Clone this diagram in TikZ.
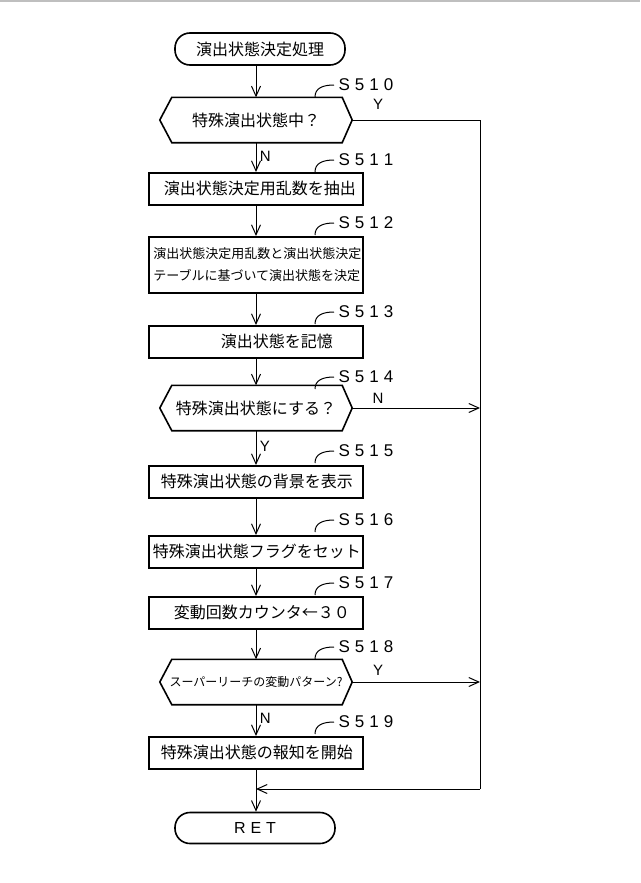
\documentclass[tikz,border=0pt]{standalone}
\usepackage{fontspec}
\setmainfont{Noto Sans CJK JP}
\newfontfamily\lat{Liberation Sans}
\usetikzlibrary{arrows.meta}
\begin{document}
\begin{tikzpicture}[x=1pt,y=-1pt,
  box/.style={draw,line width=1.6pt,minimum width=214pt,minimum height=32pt,inner sep=0pt,font=\fontsize{16}{18}\selectfont,anchor=north west,align=left},
  term/.style={draw,line width=1.6pt,rounded corners=15pt,inner sep=0pt,font=\fontsize{16}{18}\selectfont},
  dec/.style={minimum width=192pt,minimum height=45pt,inner sep=0pt,font=\fontsize{16}{18}\selectfont},
  arr/.style={-{Straight Barb[length=10pt,width=9pt]},line width=1pt},
  ln/.style={line width=1pt},
  lab/.style={font=\lat\fontsize{17}{19}\selectfont,anchor=west},
  yn/.style={font=\lat\fontsize{15}{17}\selectfont}]
\useasboundingbox (0,0) rectangle (640,883);
\draw[gray!50,line width=2pt] (0,1) -- (640,1);
\newcommand\hexa[1]{\draw[line width=1.6pt] (#1.west) -- ([xshift=12pt]#1.north west) -- ([xshift=-10pt]#1.north east) -- (#1.east) -- ([xshift=-10pt]#1.south east) -- ([xshift=12pt]#1.south west) -- cycle;}
\newcommand\slab[3]{\node[lab] (#2) at (335,#3) {S\hspace{5pt}5\hspace{5pt}1\hspace{5pt}#1};\draw[ln] ([xshift=-1pt]#2.west) .. controls ([xshift=-12pt]#2.west) and (315,#3+3) .. (315,#3+12);}
\node[term,minimum width=170pt,minimum height=32pt] (st) at (260,49) {演出状態決定処理};
\node[dec] (d0) at (256,120) {特殊演出状態中？}; \hexa{d0}
\node[box] (b1) at (148,172) {\hspace*{8pt}演出状態決定用乱数を抽出};
\node[box,minimum height=56pt,font=\fontsize{13}{22}\selectfont] (b2) at (148,236) {\hspace*{3pt}演出状態決定用乱数と演出状態決定\\\hspace*{3pt}テーブルに基づいて演出状態を決定};
\node[box] (b3) at (148,325) {\hspace*{42pt}演出状態を記憶};
\node[dec] (d4) at (256,408) {特殊演出状態にする？}; \hexa{d4}
\node[box] (b5) at (148,465) {\hspace*{2pt}特殊演出状態の背景を表示};
\node[box] (b6) at (148,535) {\hspace*{2pt}特殊演出状態フラグをセット};
\node[box] (b7) at (148,596) {\hspace*{12pt}変動回数カウンタ←３０};
\node[dec,font=\fontsize{12}{14}\selectfont] (d8) at (256,682) {スーパーリーチの変動パターン?}; \hexa{d8}
\node[box] (b9) at (148,736) {\hspace*{2pt}特殊演出状態の報知を開始};
\node[term,minimum width=160pt,minimum height=31pt,font=\lat\fontsize{16}{18}\selectfont] (ret) at (255,828) {R\hspace{5pt}E\hspace{5pt}T};
\coordinate (c0) at (480,120); \coordinate (c4) at (480,408); \coordinate (c8) at (480,682); \coordinate (cj) at (480,789); \coordinate (mj) at (256,789);
\slab{0}{l0}{85} \slab{1}{l1}{160} \slab{2}{l2}{223} \slab{3}{l3}{312} \slab{4}{l4}{377}
\slab{5}{l5}{451} \slab{6}{l6}{520} \slab{7}{l7}{583} \slab{8}{l8}{647} \slab{9}{l9}{722}
\draw[arr] (st.south -| d0.north) -- (d0.north);
\draw[arr] (d0.south) -- (b1.north -| d0.south) node[yn,pos=0.45,right] {N};
\draw[arr] (b1.south -| d0.south) -- (b2.north -| d0.south);
\draw[arr] (b2.south -| d0.south) -- (b3.north -| d0.south);
\draw[arr] (b3.south -| d0.south) -- (d4.north);
\draw[arr] (d4.south) -- (b5.north -| d0.south) node[yn,pos=0.45,right] {Y};
\draw[arr] (b5.south -| d0.south) -- (b6.north -| d0.south);
\draw[arr] (b6.south -| d0.south) -- (b7.north -| d0.south);
\draw[arr] (b7.south -| d0.south) -- (d8.north);
\draw[arr] (d8.south) -- (b9.north -| d0.south) node[yn,pos=0.45,right] {N};
\draw[arr] (b9.south -| d0.south) -- (ret.north -| d0.south);
\draw[ln] (d0.east) -- (c0) -- (cj);
\node[yn] at (378,104) {Y};
\draw[arr] (d4.east) -- (c4);
\node[yn] at (378,398) {N};
\draw[arr] (d8.east) -- (c8);
\node[yn] at (378,670) {Y};
\draw[arr] (cj) -- (mj);
\end{tikzpicture}
\end{document}
